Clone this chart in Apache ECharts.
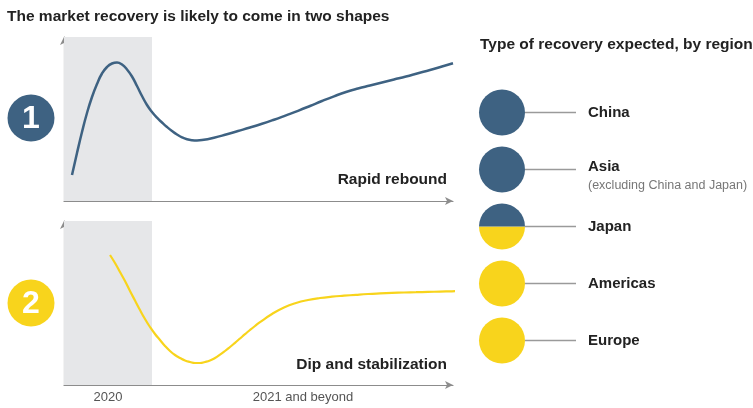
<!DOCTYPE html>
<html>
<head>
<meta charset="utf-8">
<script src="https://cdn.jsdelivr.net/npm/echarts@6/dist/echarts.min.js"></script>
<style>
html,body{margin:0;padding:0;background:#fff;}
#c{width:753px;height:408px;}
</style>
</head>
<body>
<div id="c"></div>
<script>
// ---- Data ----
// Shape 1: rapid rebound (x: time units 0-389, y: activity index 0-164)
const reboundX = [8, 13, 18, 23, 28, 33, 38, 43, 48, 53, 58, 63, 68, 73, 78, 83, 88, 93, 98, 103, 108, 113, 118, 123, 128, 133, 138,
  150, 162, 174, 186, 198, 210, 222, 234, 246, 258, 270, 282, 294, 306, 318, 330, 342, 354, 366, 378, 389];
const reboundY = [26, 48, 69, 88, 104, 117, 127.5, 134, 137.5, 138.5, 136.5, 131.5, 124.5, 115, 105, 96, 89, 83.3, 78.5, 74, 70, 66.5, 63.7, 61.8, 60.8, 60.5, 60.9,
  63.3, 66.5, 70, 73.5, 77.2, 81.3, 85.7, 90.2, 95, 100, 104.7, 109, 112.5, 115.5, 118.5, 121.5, 124.5, 127.8, 131, 134.5, 137.7];
// Shape 2: dip and stabilization
const dipX = [46, 51, 56, 61, 66, 71, 76, 81, 86, 91, 96, 101, 106, 111, 116, 121, 126, 131, 136, 141, 146, 151, 156, 161, 166, 171, 176, 181, 186, 191, 196,
  208, 220, 232, 244, 256, 268, 280, 292, 304, 316, 328, 340, 352, 364, 376, 388, 396];
const dipY = [130, 122, 113, 104, 94, 84.5, 75, 66, 58, 51, 45, 39, 34, 30, 27, 24.5, 23, 22, 22, 23, 24.5, 27, 30.3, 34, 38, 42.2, 46.5, 50.8, 55, 59, 62.8,
  71, 77.5, 82, 85, 87, 88.3, 89.3, 90.2, 91, 91.6, 92.1, 92.5, 92.8, 93.1, 93.4, 93.7, 94];
// Period shading (2020)
const period2020 = [0, 88];
// Bottom axis tick labels
const tickLabels = ['2020', '2021 and beyond'];
const tickPositions = [44, 239];
// Regions and expected recovery type
const regions = ['China', 'Asia', 'Japan', 'Americas', 'Europe'];
const regionNotes = ['', '(excluding China and Japan)', '', '', ''];
const regionShape = ['rebound', 'rebound', 'both', 'dip', 'dip'];

const BLUE = '#3e6282';
const YELLOW = '#f8d41c';
const SHADE = '#e6e7e9';
const font = 'Liberation Sans, Arial, sans-serif';
const X_MAX = 389, Y_MAX = 164;

const chart = echarts.init(document.getElementById('c'), null, {renderer: 'canvas'});

function axisPair(gridIndex, showLabels) {
  return {
    x: {
      type: 'value', gridIndex: gridIndex, min: 0, max: X_MAX,
      axisLine: {show: true, lineStyle: {color: '#8c8c8c', width: 1.2}, symbol: ['none', 'arrow'], symbolSize: [6, 8]},
      axisTick: {show: false},
      splitLine: {show: false},
      axisLabel: showLabels ? {
        show: true, customValues: tickPositions, margin: 6,
        color: '#555', fontSize: 13, fontFamily: font,
        formatter: function (v) { const i = tickPositions.indexOf(v); return i >= 0 ? tickLabels[i] : ''; }
      } : {show: false}
    },
    y: {
      type: 'value', gridIndex: gridIndex, min: 0, max: Y_MAX,
      axisLine: {show: true, lineStyle: {color: '#8c8c8c', width: 1.2}, symbol: ['none', 'arrow'], symbolSize: [6, 8]},
      axisTick: {show: false}, splitLine: {show: false}, axisLabel: {show: false}
    }
  };
}
const a0 = axisPair(0, false), a1 = axisPair(1, true);

const shadeArea = {
  silent: true,
  itemStyle: {color: SHADE},
  data: [[{xAxis: period2020[0], yAxis: 0}, {xAxis: period2020[1], yAxis: Y_MAX}]]
};

function txt(text, x, y, size, align, color, weight) {
  return {type: 'text', x: x, y: y, style: {text: text, fill: color || '#222',
    font: (weight || 'bold') + ' ' + size + 'px ' + font, textAlign: align || 'left', textVerticalAlign: 'middle'}};
}

chart.setOption({
  animation: false,
  backgroundColor: '#fff',
  grid: [
    {left: 64, top: 37, width: 389, height: 164},
    {left: 64, top: 221, width: 389, height: 164},
    {left: 479, top: 84, width: 46, height: 285}
  ],
  xAxis: [a0.x, a1.x,
    {type: 'value', gridIndex: 2, min: -1, max: 1, show: false}],
  yAxis: [a0.y, a1.y,
    {type: 'category', gridIndex: 2, data: regions, inverse: true, show: false}],
  graphic: [
    {type: 'group', children: [
      txt('The market recovery is likely to come in two shapes', 7, 17, 15.5),
      txt('Type of recovery expected, by region', 480, 45, 15.5),
      txt('Rapid rebound', 447, 180, 15.5, 'right'),
      txt('Dip and stabilization', 447, 365, 15.5, 'right'),
      {type: 'circle', shape: {cx: 31, cy: 118, r: 23.5}, style: {fill: BLUE}},
      txt('1', 31, 119, 32, 'center', '#fff'),
      {type: 'circle', shape: {cx: 31, cy: 303, r: 23.5}, style: {fill: YELLOW}},
      txt('2', 31, 304, 32, 'center', '#fff')
    ]}
  ],
  series: [
    {
      type: 'line', xAxisIndex: 0, yAxisIndex: 0, smooth: 0.5, showSymbol: false, clip: false,
      lineStyle: {color: BLUE, width: 2.5},
      data: reboundX.map((x, i) => [x, reboundY[i]]),
      markArea: shadeArea, z: 3
    },
    {
      type: 'line', xAxisIndex: 1, yAxisIndex: 1, smooth: 0.5, showSymbol: false, clip: false,
      lineStyle: {color: YELLOW, width: 2.2},
      data: dipX.map((x, i) => [x, dipY[i]]),
      markArea: shadeArea, z: 3
    },
    {
      type: 'custom', xAxisIndex: 2, yAxisIndex: 2, clip: false,
      data: regions.map((r, i) => [0, r, i]),
      renderItem: function (params, api) {
        const i = api.value(2);
        const c = api.coord([0, regions[i]]);
        const r = api.size([1, 0])[0];
        const shape = regionShape[i];
        const children = [];
        children.push({type: 'line', shape: {x1: c[0] + r, y1: c[1], x2: c[0] + 74, y2: c[1]},
          style: {stroke: '#9a9a9a', lineWidth: 1.5}});
        if (shape === 'both') {
          children.push({type: 'sector', shape: {cx: c[0], cy: c[1], r: r, startAngle: 0, endAngle: Math.PI},
            style: {fill: YELLOW}});
          children.push({type: 'sector', shape: {cx: c[0], cy: c[1], r: r, startAngle: Math.PI, endAngle: 2 * Math.PI},
            style: {fill: BLUE}});
        } else {
          children.push({type: 'circle', shape: {cx: c[0], cy: c[1], r: r},
            style: {fill: shape === 'rebound' ? BLUE : YELLOW}});
        }
        const noteOffset = regionNotes[i] ? -3 : 0;
        children.push({type: 'text', x: c[0] + 86, y: c[1] + noteOffset,
          style: {text: regions[i], fill: '#222', font: 'bold 15px ' + font, textVerticalAlign: 'middle'}});
        if (regionNotes[i]) {
          children.push({type: 'text', x: c[0] + 86, y: c[1] + 16,
            style: {text: regionNotes[i], fill: '#777', font: '12.5px ' + font, textVerticalAlign: 'middle'}});
        }
        return {type: 'group', children: children};
      }
    }
  ]
});
</script>
</body>
</html>
